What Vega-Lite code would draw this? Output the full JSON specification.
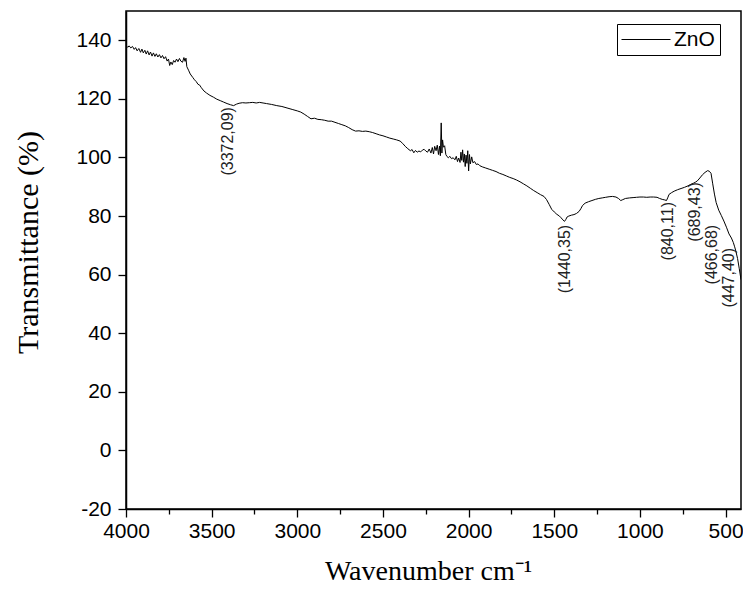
{
  "$schema": "https://vega.github.io/schema/vega-lite/v6.json",
  "autosize": "none",
  "width": 615,
  "height": 498,
  "padding": {"left": 126, "top": 11, "right": 2, "bottom": 80},
  "background": "white",
  "config": {
    "view": {"stroke": "black", "strokeWidth": 1.5},
    "axis": {
      "domainColor": "black", "domainWidth": 1.5, "tickColor": "black", "tickWidth": 1.3,
      "labelColor": "black", "labelFont": "Liberation Sans", "labelFontSize": 21,
      "titleFont": "Liberation Serif", "titleFontWeight": "normal", "titleFontSize": 28, "titleColor": "black",
      "grid": false, "labelFlush": false, "labelOverlap": false
    }
  },
  "datasets": {
    "spectrum": [
      {"wn": 4000, "t": 138.2, "s": "ZnO"}, {"wn": 3990, "t": 137.6, "s": "ZnO"}, {"wn": 3982, "t": 138.1, "s": "ZnO"},
      {"wn": 3972, "t": 137.4, "s": "ZnO"}, {"wn": 3962, "t": 137.9, "s": "ZnO"}, {"wn": 3952, "t": 136.9, "s": "ZnO"},
      {"wn": 3944, "t": 137.5, "s": "ZnO"}, {"wn": 3935, "t": 136.4, "s": "ZnO"}, {"wn": 3925, "t": 137.2, "s": "ZnO"},
      {"wn": 3915, "t": 135.9, "s": "ZnO"}, {"wn": 3907, "t": 137.0, "s": "ZnO"}, {"wn": 3899, "t": 135.7, "s": "ZnO"},
      {"wn": 3890, "t": 136.6, "s": "ZnO"}, {"wn": 3882, "t": 135.3, "s": "ZnO"}, {"wn": 3874, "t": 136.4, "s": "ZnO"},
      {"wn": 3865, "t": 135.0, "s": "ZnO"}, {"wn": 3857, "t": 136.0, "s": "ZnO"}, {"wn": 3848, "t": 134.6, "s": "ZnO"},
      {"wn": 3840, "t": 135.7, "s": "ZnO"}, {"wn": 3831, "t": 134.5, "s": "ZnO"}, {"wn": 3823, "t": 135.4, "s": "ZnO"},
      {"wn": 3814, "t": 134.3, "s": "ZnO"}, {"wn": 3805, "t": 135.1, "s": "ZnO"}, {"wn": 3796, "t": 134.0, "s": "ZnO"},
      {"wn": 3787, "t": 134.8, "s": "ZnO"}, {"wn": 3778, "t": 133.7, "s": "ZnO"}, {"wn": 3769, "t": 134.4, "s": "ZnO"},
      {"wn": 3760, "t": 132.9, "s": "ZnO"}, {"wn": 3752, "t": 133.6, "s": "ZnO"}, {"wn": 3745, "t": 131.4, "s": "ZnO"},
      {"wn": 3738, "t": 132.6, "s": "ZnO"}, {"wn": 3730, "t": 131.7, "s": "ZnO"}, {"wn": 3722, "t": 133.1, "s": "ZnO"},
      {"wn": 3714, "t": 132.5, "s": "ZnO"}, {"wn": 3705, "t": 133.6, "s": "ZnO"}, {"wn": 3697, "t": 132.7, "s": "ZnO"},
      {"wn": 3688, "t": 133.8, "s": "ZnO"}, {"wn": 3680, "t": 132.9, "s": "ZnO"}, {"wn": 3670, "t": 132.5, "s": "ZnO"},
      {"wn": 3662, "t": 134.1, "s": "ZnO"}, {"wn": 3655, "t": 132.8, "s": "ZnO"}, {"wn": 3650, "t": 133.9, "s": "ZnO"},
      {"wn": 3645, "t": 131.0, "s": "ZnO"}, {"wn": 3635, "t": 129.8, "s": "ZnO"},
      {"wn": 3625, "t": 128.5, "s": "ZnO"}, {"wn": 3610, "t": 127.3, "s": "ZnO"}, {"wn": 3600, "t": 126.5, "s": "ZnO"},
      {"wn": 3590, "t": 125.9, "s": "ZnO"}, {"wn": 3580, "t": 125.0, "s": "ZnO"}, {"wn": 3570, "t": 124.7, "s": "ZnO"},
      {"wn": 3560, "t": 123.8, "s": "ZnO"}, {"wn": 3545, "t": 122.7, "s": "ZnO"}, {"wn": 3530, "t": 122.0, "s": "ZnO"},
      {"wn": 3510, "t": 121.2, "s": "ZnO"}, {"wn": 3490, "t": 120.6, "s": "ZnO"}, {"wn": 3470, "t": 119.9, "s": "ZnO"},
      {"wn": 3450, "t": 119.4, "s": "ZnO"}, {"wn": 3430, "t": 118.9, "s": "ZnO"}, {"wn": 3410, "t": 118.4, "s": "ZnO"},
      {"wn": 3390, "t": 118.0, "s": "ZnO"}, {"wn": 3372, "t": 117.7, "s": "ZnO"}, {"wn": 3355, "t": 118.2, "s": "ZnO"},
      {"wn": 3340, "t": 118.5, "s": "ZnO"}, {"wn": 3320, "t": 118.7, "s": "ZnO"}, {"wn": 3300, "t": 118.6, "s": "ZnO"},
      {"wn": 3280, "t": 118.7, "s": "ZnO"}, {"wn": 3260, "t": 118.8, "s": "ZnO"}, {"wn": 3240, "t": 118.6, "s": "ZnO"},
      {"wn": 3220, "t": 118.8, "s": "ZnO"}, {"wn": 3200, "t": 118.6, "s": "ZnO"}, {"wn": 3180, "t": 118.4, "s": "ZnO"},
      {"wn": 3150, "t": 118.1, "s": "ZnO"}, {"wn": 3120, "t": 117.7, "s": "ZnO"}, {"wn": 3090, "t": 117.4, "s": "ZnO"},
      {"wn": 3060, "t": 116.9, "s": "ZnO"}, {"wn": 3030, "t": 116.4, "s": "ZnO"}, {"wn": 3000, "t": 115.9, "s": "ZnO"},
      {"wn": 2980, "t": 115.5, "s": "ZnO"}, {"wn": 2960, "t": 114.8, "s": "ZnO"}, {"wn": 2940, "t": 114.0, "s": "ZnO"},
      {"wn": 2920, "t": 113.2, "s": "ZnO"}, {"wn": 2900, "t": 113.4, "s": "ZnO"}, {"wn": 2880, "t": 113.0, "s": "ZnO"},
      {"wn": 2860, "t": 112.9, "s": "ZnO"}, {"wn": 2840, "t": 112.7, "s": "ZnO"}, {"wn": 2820, "t": 112.4, "s": "ZnO"},
      {"wn": 2800, "t": 112.4, "s": "ZnO"}, {"wn": 2780, "t": 112.0, "s": "ZnO"}, {"wn": 2760, "t": 111.6, "s": "ZnO"},
      {"wn": 2740, "t": 111.2, "s": "ZnO"}, {"wn": 2720, "t": 110.8, "s": "ZnO"}, {"wn": 2700, "t": 110.2, "s": "ZnO"},
      {"wn": 2680, "t": 109.5, "s": "ZnO"}, {"wn": 2660, "t": 109.0, "s": "ZnO"}, {"wn": 2640, "t": 109.1, "s": "ZnO"},
      {"wn": 2620, "t": 108.9, "s": "ZnO"}, {"wn": 2600, "t": 109.0, "s": "ZnO"}, {"wn": 2580, "t": 108.8, "s": "ZnO"},
      {"wn": 2560, "t": 108.5, "s": "ZnO"}, {"wn": 2540, "t": 108.1, "s": "ZnO"}, {"wn": 2520, "t": 107.7, "s": "ZnO"},
      {"wn": 2500, "t": 107.4, "s": "ZnO"}, {"wn": 2480, "t": 107.0, "s": "ZnO"}, {"wn": 2460, "t": 106.6, "s": "ZnO"},
      {"wn": 2440, "t": 106.3, "s": "ZnO"}, {"wn": 2420, "t": 106.0, "s": "ZnO"}, {"wn": 2400, "t": 105.6, "s": "ZnO"},
      {"wn": 2385, "t": 104.8, "s": "ZnO"}, {"wn": 2370, "t": 103.8, "s": "ZnO"}, {"wn": 2355, "t": 103.0, "s": "ZnO"},
      {"wn": 2340, "t": 102.3, "s": "ZnO"}, {"wn": 2330, "t": 102.7, "s": "ZnO"}, {"wn": 2320, "t": 101.6, "s": "ZnO"},
      {"wn": 2310, "t": 102.4, "s": "ZnO"}, {"wn": 2300, "t": 101.8, "s": "ZnO"}, {"wn": 2290, "t": 102.2, "s": "ZnO"},
      {"wn": 2280, "t": 101.9, "s": "ZnO"}, {"wn": 2270, "t": 102.5, "s": "ZnO"}, {"wn": 2260, "t": 102.8, "s": "ZnO"},
      {"wn": 2250, "t": 102.2, "s": "ZnO"}, {"wn": 2240, "t": 101.8, "s": "ZnO"}, {"wn": 2230, "t": 102.9, "s": "ZnO"},
      {"wn": 2220, "t": 101.5, "s": "ZnO"}, {"wn": 2212, "t": 103.4, "s": "ZnO"}, {"wn": 2205, "t": 101.2, "s": "ZnO"},
      {"wn": 2198, "t": 103.8, "s": "ZnO"}, {"wn": 2190, "t": 102.3, "s": "ZnO"}, {"wn": 2183, "t": 104.2, "s": "ZnO"},
      {"wn": 2176, "t": 101.0, "s": "ZnO"}, {"wn": 2170, "t": 103.9, "s": "ZnO"}, {"wn": 2165, "t": 100.6, "s": "ZnO"},
      {"wn": 2160, "t": 111.8, "s": "ZnO"}, {"wn": 2156, "t": 101.5, "s": "ZnO"}, {"wn": 2152, "t": 106.0, "s": "ZnO"},
      {"wn": 2147, "t": 103.5, "s": "ZnO"}, {"wn": 2140, "t": 104.0, "s": "ZnO"}, {"wn": 2133, "t": 101.0, "s": "ZnO"},
      {"wn": 2126, "t": 100.3, "s": "ZnO"}, {"wn": 2118, "t": 99.9, "s": "ZnO"}, {"wn": 2110, "t": 100.4, "s": "ZnO"},
      {"wn": 2100, "t": 99.6, "s": "ZnO"}, {"wn": 2090, "t": 99.9, "s": "ZnO"}, {"wn": 2080, "t": 99.2, "s": "ZnO"},
      {"wn": 2072, "t": 100.4, "s": "ZnO"}, {"wn": 2065, "t": 98.6, "s": "ZnO"}, {"wn": 2058, "t": 99.8, "s": "ZnO"},
      {"wn": 2050, "t": 98.3, "s": "ZnO"}, {"wn": 2045, "t": 101.8, "s": "ZnO"}, {"wn": 2040, "t": 99.0, "s": "ZnO"},
      {"wn": 2035, "t": 102.6, "s": "ZnO"}, {"wn": 2030, "t": 98.4, "s": "ZnO"}, {"wn": 2025, "t": 101.2, "s": "ZnO"},
      {"wn": 2020, "t": 96.9, "s": "ZnO"}, {"wn": 2015, "t": 100.8, "s": "ZnO"}, {"wn": 2010, "t": 98.0, "s": "ZnO"},
      {"wn": 2005, "t": 102.3, "s": "ZnO"}, {"wn": 2000, "t": 95.4, "s": "ZnO"}, {"wn": 1995, "t": 101.0, "s": "ZnO"},
      {"wn": 1990, "t": 97.8, "s": "ZnO"}, {"wn": 1982, "t": 100.2, "s": "ZnO"}, {"wn": 1975, "t": 98.2, "s": "ZnO"},
      {"wn": 1965, "t": 98.6, "s": "ZnO"}, {"wn": 1955, "t": 97.6, "s": "ZnO"}, {"wn": 1945, "t": 97.8, "s": "ZnO"},
      {"wn": 1935, "t": 97.2, "s": "ZnO"}, {"wn": 1920, "t": 96.8, "s": "ZnO"}, {"wn": 1900, "t": 96.4, "s": "ZnO"},
      {"wn": 1880, "t": 96.0, "s": "ZnO"}, {"wn": 1860, "t": 95.6, "s": "ZnO"}, {"wn": 1840, "t": 95.2, "s": "ZnO"},
      {"wn": 1820, "t": 94.6, "s": "ZnO"}, {"wn": 1800, "t": 94.2, "s": "ZnO"}, {"wn": 1780, "t": 93.7, "s": "ZnO"},
      {"wn": 1760, "t": 93.2, "s": "ZnO"}, {"wn": 1740, "t": 92.8, "s": "ZnO"}, {"wn": 1720, "t": 92.3, "s": "ZnO"},
      {"wn": 1700, "t": 91.7, "s": "ZnO"}, {"wn": 1680, "t": 91.0, "s": "ZnO"}, {"wn": 1660, "t": 90.3, "s": "ZnO"},
      {"wn": 1640, "t": 89.5, "s": "ZnO"}, {"wn": 1620, "t": 88.7, "s": "ZnO"}, {"wn": 1600, "t": 88.0, "s": "ZnO"},
      {"wn": 1580, "t": 87.3, "s": "ZnO"}, {"wn": 1560, "t": 86.7, "s": "ZnO"}, {"wn": 1545, "t": 85.6, "s": "ZnO"},
      {"wn": 1530, "t": 84.0, "s": "ZnO"}, {"wn": 1515, "t": 82.3, "s": "ZnO"}, {"wn": 1500, "t": 81.4, "s": "ZnO"},
      {"wn": 1485, "t": 80.6, "s": "ZnO"}, {"wn": 1470, "t": 80.0, "s": "ZnO"}, {"wn": 1460, "t": 79.4, "s": "ZnO"},
      {"wn": 1450, "t": 78.7, "s": "ZnO"}, {"wn": 1440, "t": 78.2, "s": "ZnO"}, {"wn": 1432, "t": 78.9, "s": "ZnO"},
      {"wn": 1425, "t": 79.7, "s": "ZnO"}, {"wn": 1415, "t": 80.0, "s": "ZnO"}, {"wn": 1400, "t": 80.3, "s": "ZnO"},
      {"wn": 1385, "t": 80.5, "s": "ZnO"}, {"wn": 1370, "t": 80.9, "s": "ZnO"}, {"wn": 1355, "t": 81.6, "s": "ZnO"},
      {"wn": 1345, "t": 82.5, "s": "ZnO"}, {"wn": 1335, "t": 83.6, "s": "ZnO"}, {"wn": 1320, "t": 84.4, "s": "ZnO"},
      {"wn": 1300, "t": 84.9, "s": "ZnO"}, {"wn": 1280, "t": 85.3, "s": "ZnO"}, {"wn": 1260, "t": 85.7, "s": "ZnO"},
      {"wn": 1240, "t": 86.0, "s": "ZnO"}, {"wn": 1220, "t": 86.2, "s": "ZnO"}, {"wn": 1200, "t": 86.4, "s": "ZnO"},
      {"wn": 1180, "t": 86.6, "s": "ZnO"}, {"wn": 1160, "t": 86.7, "s": "ZnO"}, {"wn": 1140, "t": 86.5, "s": "ZnO"},
      {"wn": 1125, "t": 86.0, "s": "ZnO"}, {"wn": 1112, "t": 85.3, "s": "ZnO"}, {"wn": 1100, "t": 85.6, "s": "ZnO"},
      {"wn": 1085, "t": 86.0, "s": "ZnO"}, {"wn": 1060, "t": 86.2, "s": "ZnO"}, {"wn": 1040, "t": 86.3, "s": "ZnO"},
      {"wn": 1020, "t": 86.4, "s": "ZnO"}, {"wn": 1000, "t": 86.5, "s": "ZnO"}, {"wn": 980, "t": 86.5, "s": "ZnO"},
      {"wn": 960, "t": 86.4, "s": "ZnO"}, {"wn": 940, "t": 86.5, "s": "ZnO"}, {"wn": 920, "t": 86.5, "s": "ZnO"},
      {"wn": 900, "t": 86.4, "s": "ZnO"}, {"wn": 885, "t": 86.0, "s": "ZnO"}, {"wn": 870, "t": 85.7, "s": "ZnO"},
      {"wn": 855, "t": 85.5, "s": "ZnO"}, {"wn": 845, "t": 85.3, "s": "ZnO"}, {"wn": 838, "t": 86.2, "s": "ZnO"},
      {"wn": 830, "t": 87.4, "s": "ZnO"}, {"wn": 815, "t": 88.0, "s": "ZnO"}, {"wn": 800, "t": 88.5, "s": "ZnO"},
      {"wn": 780, "t": 89.0, "s": "ZnO"}, {"wn": 760, "t": 89.4, "s": "ZnO"}, {"wn": 740, "t": 89.8, "s": "ZnO"},
      {"wn": 720, "t": 90.3, "s": "ZnO"}, {"wn": 700, "t": 90.9, "s": "ZnO"}, {"wn": 688, "t": 91.2, "s": "ZnO"},
      {"wn": 675, "t": 91.6, "s": "ZnO"}, {"wn": 665, "t": 92.0, "s": "ZnO"}, {"wn": 650, "t": 93.0, "s": "ZnO"},
      {"wn": 635, "t": 94.1, "s": "ZnO"}, {"wn": 620, "t": 94.9, "s": "ZnO"}, {"wn": 605, "t": 95.5, "s": "ZnO"},
      {"wn": 595, "t": 95.3, "s": "ZnO"}, {"wn": 585, "t": 94.6, "s": "ZnO"}, {"wn": 575, "t": 91.0, "s": "ZnO"},
      {"wn": 565, "t": 87.5, "s": "ZnO"}, {"wn": 555, "t": 84.6, "s": "ZnO"}, {"wn": 540, "t": 82.0, "s": "ZnO"},
      {"wn": 525, "t": 80.2, "s": "ZnO"}, {"wn": 510, "t": 78.3, "s": "ZnO"}, {"wn": 495, "t": 76.2, "s": "ZnO"},
      {"wn": 480, "t": 73.9, "s": "ZnO"}, {"wn": 466, "t": 72.5, "s": "ZnO"}, {"wn": 455, "t": 71.0, "s": "ZnO"},
      {"wn": 447, "t": 69.5, "s": "ZnO"}, {"wn": 440, "t": 68.0, "s": "ZnO"}, {"wn": 430, "t": 65.5, "s": "ZnO"},
      {"wn": 420, "t": 62.0, "s": "ZnO"}, {"wn": 410, "t": 58.3, "s": "ZnO"}
    ],
    "peaks": [
      {"wn": 3405, "t": 117.2, "label": "(3372,09)"},
      {"wn": 1437, "t": 77.0, "label": "(1440,35)"},
      {"wn": 836, "t": 84.8, "label": "(840,11)"},
      {"wn": 678, "t": 91.6, "label": "(689,43)"},
      {"wn": 579, "t": 77.0, "label": "(466,68)"},
      {"wn": 480, "t": 69.1, "label": "(447,40)"}
    ]
  },
  "layer": [
    {
      "data": {"name": "spectrum"},
      "mark": {"type": "line", "strokeWidth": 1, "clip": true, "interpolate": "linear"},
      "encoding": {
        "x": {
          "field": "wn", "type": "quantitative",
          "scale": {"domain": [410, 4000], "reverse": true, "nice": false, "zero": false},
          "axis": {
            "title": "Wavenumber cm⁻¹",
            "values": [4000, 3750, 3500, 3250, 3000, 2750, 2500, 2250, 2000, 1750, 1500, 1250, 1000, 750, 500],
            "labelExpr": "datum.value % 500 === 0 ? '' + datum.value : ''",
            "tickSize": {"condition": {"test": "datum.value % 500 === 0", "value": 8}, "value": 5},
            "labelPadding": 3,
            "titleX": 302, "titleY": 70, "titleAlign": "center", "titleBaseline": "alphabetic"
          }
        },
        "y": {
          "field": "t", "type": "quantitative",
          "scale": {"domain": [-20, 150], "nice": false, "zero": false},
          "axis": {
            "title": "Transmittance (%)",
            "values": [-20, -10, 0, 10, 20, 30, 40, 50, 60, 70, 80, 90, 100, 110, 120, 130, 140],
            "labelExpr": "datum.value % 20 === 0 ? '' + datum.value : ''",
            "tickSize": {"condition": {"test": "datum.value % 20 === 0", "value": 8}, "value": 5},
            "labelPadding": 7,
            "titleFontSize": 30,
            "titleX": -98, "titleY": 231, "titleAlign": "center", "titleBaseline": "middle", "titleAngle": 270
          }
        },
        "color": {
          "field": "s", "type": "nominal",
          "scale": {"range": ["black"]},
          "legend": {
            "title": null, "orient": "none", "legendX": 491, "legendY": 13,
            "strokeColor": "black", "fillColor": "white", "padding": 5,
            "symbolType": "M-2.2,0H7.6", "symbolSize": 100, "symbolStrokeWidth": 1,
            "labelFont": "Liberation Sans", "labelFontSize": 21, "labelColor": "black", "labelOffset": 31
          }
        }
      }
    },
    {
      "data": {"name": "peaks"},
      "mark": {"type": "text", "angle": 270, "align": "right", "baseline": "middle", "font": "Liberation Sans", "fontSize": 16, "color": "#222"},
      "encoding": {
        "x": {"field": "wn", "type": "quantitative"},
        "y": {"field": "t", "type": "quantitative"},
        "text": {"field": "label", "type": "nominal"}
      }
    }
  ]
}
